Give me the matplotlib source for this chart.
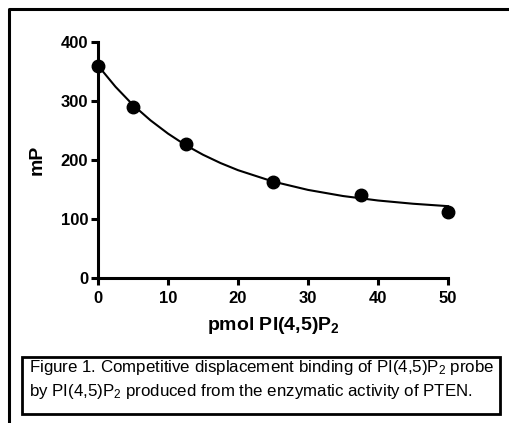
import matplotlib
matplotlib.use("Agg")
import matplotlib.pyplot as plt
from matplotlib.lines import Line2D
from matplotlib.patches import Rectangle

plt.rcParams['font.family'] = ['Liberation Sans', 'DejaVu Sans']
plt.rcParams['mathtext.fontset'] = 'custom'
plt.rcParams['mathtext.rm'] = 'Liberation Sans'
plt.rcParams['mathtext.it'] = 'Liberation Sans:italic'
plt.rcParams['mathtext.bf'] = 'Liberation Sans:bold'

# measured points
pmol = [0, 5, 12.5, 25, 37.5, 50]
mP = [360, 290, 227, 163, 141, 111]

# fitted curve
curve_x = [0, 2.5, 5, 7.5, 10, 12.5, 15, 17.5, 20, 25, 30, 35, 40, 45, 50]
curve_y = [360, 324, 293, 267, 244.5, 225, 208.6, 194.5, 182.4, 163.1, 148.9,
           138.5, 130.9, 125.4, 121.3]

x_ticks = [0, 10, 20, 30, 40, 50]
y_ticks = [0, 100, 200, 300, 400]

caption_1 = "Figure 1. Competitive displacement binding of PI(4,5)P$_2$ probe"
caption_2 = "by PI(4,5)P$_2$ produced from the enzymatic activity of PTEN."

W, H = 509, 423
fig = plt.figure(figsize=(W / 100, H / 100), dpi=100)

# axes box in pixels: x 98..448, y 42..277.6
ax = fig.add_axes([98 / W, 1 - 277.6 / H, 350 / W, 235.6 / H])
ax.plot(curve_x, curve_y, color='black', lw=1.5, clip_on=False)
ax.plot(pmol, mP, 'o', color='black', ms=9, clip_on=False, zorder=3)

ax.set_xlim(0, 50)
ax.set_ylim(0, 400)
ax.set_xticks(x_ticks)
ax.set_yticks(y_ticks)
for s in ['top', 'right']:
    ax.spines[s].set_visible(False)
for s in ['left', 'bottom']:
    ax.spines[s].set_linewidth(2.2)
ax.tick_params(width=2.2, length=5, labelsize=12)
ax.tick_params(axis='x', pad=5)
ax.tick_params(axis='y', pad=2)
for lab in ax.get_xticklabels() + ax.get_yticklabels():
    lab.set_fontweight('bold')
ax.set_xlabel(r"pmol PI(4,5)P$_\mathbf{2}$", fontsize=14, fontweight='bold', labelpad=6)
ax.set_ylabel("mP", fontsize=14, fontweight='bold', labelpad=11)

# outer frame (left and top only)
fig.add_artist(Line2D([9 / W, 9 / W, 1], [0, 1 - 9 / H, 1 - 9 / H],
                      transform=fig.transFigure, color='black', lw=2.2))

# caption box
fig.add_artist(Rectangle((22 / W, 1 - 414 / H), 478 / W, 57 / H,
                         transform=fig.transFigure, fill=False,
                         edgecolor='black', lw=2))
fig.text(29 / W, 1 - 372 / H, caption_1, fontsize=12.2, va='baseline')
fig.text(29 / W, 1 - 396 / H, caption_2, fontsize=12.2, va='baseline')

fig.savefig("out.png", dpi=100)
